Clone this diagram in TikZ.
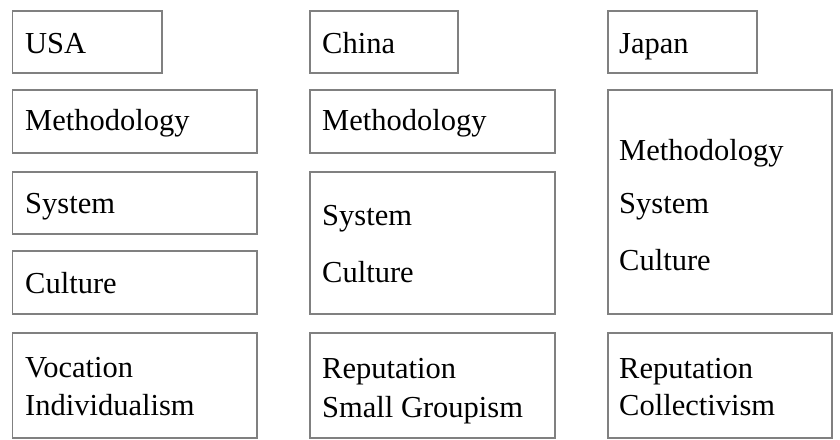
\documentclass[tikz,border=0pt]{standalone}
\usepackage{fontspec}
\setmainfont{Liberation Serif}
\newfontfamily\boxfont{Liberation Serif}
\begin{document}
\begin{tikzpicture}[x=1pt,y=-1pt,
  box/.style={draw=black!50,line width=1.6pt,rectangle,inner sep=0pt,anchor=north west},
  lbl/.style={anchor=base west,inner sep=0pt,font=\boxfont\fontsize{30.5}{36}\selectfont}]
\useasboundingbox (0,0) rectangle (840,439);
% column 1: USA
\node[box,minimum width=149.5pt,minimum height=62pt] (usa) at (11.5,10) {};
\node[box,minimum width=244.5pt,minimum height=63pt] (usameth) at (11.5,89) {};
\node[box,minimum width=244.5pt,minimum height=62pt] (usasys) at (11.5,171) {};
\node[box,minimum width=244.5pt,minimum height=63pt] (usacult) at (11.5,250) {};
\node[box,minimum width=244.5pt,minimum height=105pt] (usaval) at (11.5,332) {};
\node[lbl] (tusa) at (25,53) {USA};
\node[lbl] (tusameth) at (25,130) {Methodology};
\node[lbl] (tusasys) at (25,213) {System};
\node[lbl] (tusacult) at (25,293) {Culture};
\node[lbl] (tusav1) at (25,377) {Vocation};
\node[lbl] (tusav2) at (25,415) {Individualism};
% column 2: China
\node[box,minimum width=148pt,minimum height=62pt] (chn) at (309,10) {};
\node[box,minimum width=245pt,minimum height=63pt] (chnmeth) at (309,89) {};
\node[box,minimum width=245pt,minimum height=142pt] (chnsys) at (309,171) {};
\node[box,minimum width=245pt,minimum height=105pt] (chnval) at (309,332) {};
\node[lbl] (tchn) at (322,53) {China};
\node[lbl] (tchnmeth) at (322,130) {Methodology};
\node[lbl] (tchnsys) at (322,225) {System};
\node[lbl] (tchncult) at (322,282) {Culture};
\node[lbl] (tchnv1) at (322,378) {Reputation};
\node[lbl] (tchnv2) at (322,417) {Small Groupism};
% column 3: Japan
\node[box,minimum width=149pt,minimum height=62pt] (jpn) at (607,10) {};
\node[box,minimum width=224pt,minimum height=224pt] (jpnmeth) at (607,89) {};
\node[box,minimum width=224pt,minimum height=105pt] (jpnval) at (607,332) {};
\node[lbl] (tjpn) at (619,53) {Japan};
\node[lbl] (tjpnmeth) at (619,160) {Methodology};
\node[lbl] (tjpnsys) at (619,213) {System};
\node[lbl] (tjpncult) at (619,270) {Culture};
\node[lbl] (tjpnv1) at (619,378) {Reputation};
\node[lbl] (tjpnv2) at (619,415) {Collectivism};
\end{tikzpicture}
\end{document}
